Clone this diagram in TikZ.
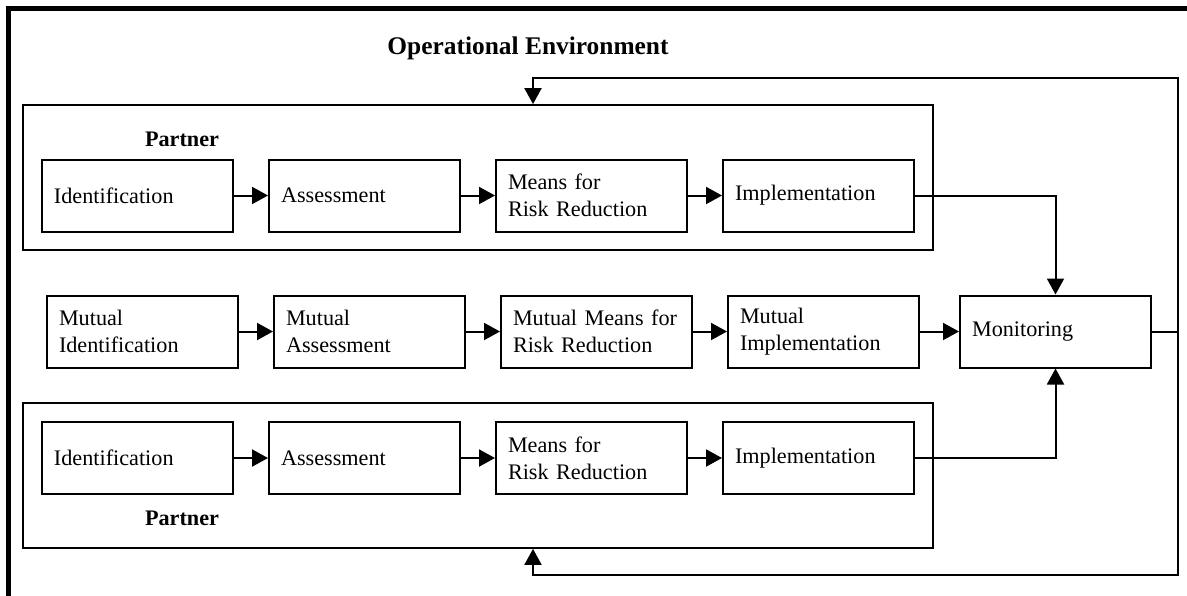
\documentclass[tikz,border=0pt]{standalone}
\usepackage{fontspec}
\setmainfont{Liberation Serif}
\usetikzlibrary{positioning,arrows.meta}

\tikzset{
  stepbox/.style={draw, line width=1pt, rectangle, minimum width=95.5pt, minimum height=36pt,
    text width=83.5pt, inner xsep=6pt, align=left, font=\fontsize{11.1}{13.5}\selectfont},
  partnerbox/.style={draw, line width=0.9pt, minimum width=455pt, minimum height=72.5pt, inner sep=0pt},
  tag/.style={font=\fontsize{11.1}{13.5}\selectfont\bfseries},
  flow/.style={line width=1pt, -{Triangle[length=8pt,width=8.5pt]}},
}

\begin{document}
\begin{tikzpicture}[x=0.5pt, y=-0.5pt, node distance=17pt]
\useasboundingbox (0,0) rectangle (1187,595);

% environment frame (runs off the page)
\draw[line width=2.5pt] (1200,8.5) -- (8.5,8.5) -- (8.5,610);
\node[tag, font=\fontsize{12.7}{15}\selectfont\bfseries] (title) at (528,48) {Operational Environment};

% the two partners
\node[partnerbox] (ptop) at (478,177.5) {};
\node[partnerbox] (pbot) at (478,475.5) {};
\node[tag] (tagA) at (182,139) {Partner};
\node[tag] (tagB) at (182,518) {Partner};

% upper partner
\node[stepbox] (idA) at (137.5,195.5) {Identification};
\node[stepbox, right=of idA] (asA) {Assessment};
\node[stepbox, right=of asA] (meA) {Means for\\Risk Reduction};
\node[stepbox, right=of meA] (imA) {Implementation};

% mutual
\node[stepbox] (idM) at (142.5,331.5) {Mutual\\Identification};
\node[stepbox, right=of idM] (asM) {Mutual\\Assessment};
\node[stepbox, right=of asM] (meM) {Mutual Means for\\Risk Reduction};
\node[stepbox, right=of meM] (imM) {Mutual\\Implementation};
\node[stepbox, right=19.5pt of imM] (mon) {Monitoring};

% lower partner
\node[stepbox] (idB) at (137.5,458) {Identification};
\node[stepbox, right=of idB] (asB) {Assessment};
\node[stepbox, right=of asB] (meB) {Means for\\Risk Reduction};
\node[stepbox, right=of meB] (imB) {Implementation};

\foreach \a/\b in {idA/asA, asA/meA, meA/imA, idM/asM, asM/meM, meM/imM, imM/mon, idB/asB, asB/meB, meB/imB}
  \draw[flow] (\a) -- (\b);

\draw[flow] (imA.east) -| (mon.north);
\draw[flow] (imB.east) -| (mon.south);

% feedback to both partners
\coordinate (rail) at (1178,0);
\coordinate (fbtop) at (533,78);
\coordinate (fbbot) at (533,575);
\draw[flow] (mon.east) -- (mon.east -| rail) |- (fbtop) -- (ptop.north -| fbtop);
\draw[flow] (mon.east -| rail) |- (fbbot) -- (pbot.south -| fbbot);

\end{tikzpicture}
\end{document}
